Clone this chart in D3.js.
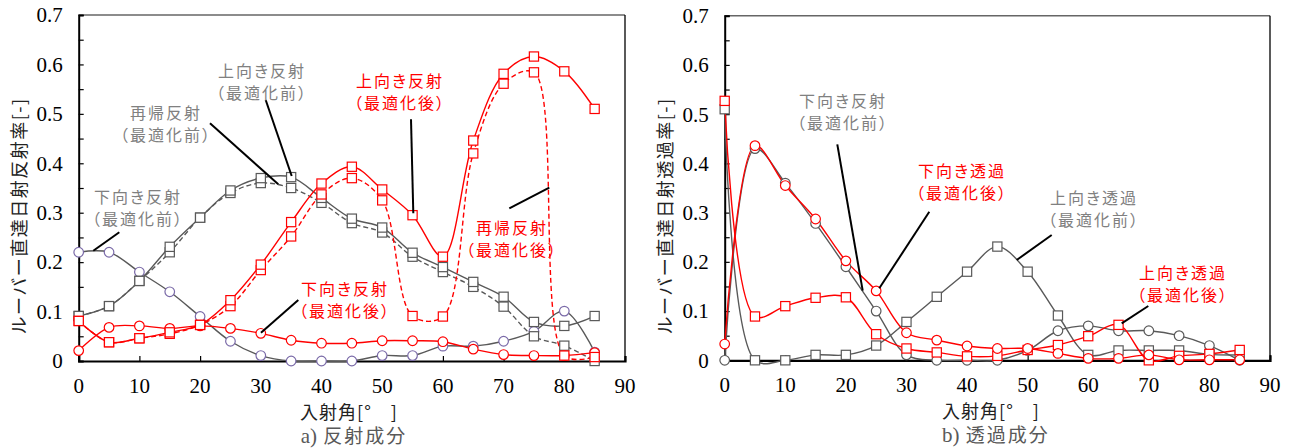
<!DOCTYPE html>
<html>
<head>
<meta charset="utf-8">
<script src="https://cdn.jsdelivr.net/npm/d3@7"></script>
<style>
  body { margin: 0; background: #fff; }
  svg { display: block; }
  .num { font-family: "Liberation Serif", "Times New Roman", Times, serif; }
  .jp { font-family: "Noto Sans CJK JP", sans-serif; }
</style>
</head>
<body>
<svg id="chart" width="1294" height="448"></svg>
<script>
// incidence angles [deg]
const ANGLES = [0, 5, 10, 15, 20, 25, 30, 35, 40, 45, 50, 55, 60, 65, 70, 75, 80, 85];
const X_TICKS = [0, 10, 20, 30, 40, 50, 60, 70, 80, 90];
const Y_TICKS = [0, 0.1, 0.2, 0.3, 0.4, 0.5, 0.6, 0.7];

// a) reflection
const reflUpBefore = [0.091, 0.111, 0.162, 0.231, 0.29, 0.345, 0.37, 0.372, 0.33, 0.288, 0.27, 0.219, 0.19, 0.16, 0.13, 0.079, 0.071, 0.091];
const reflRetroBefore = [0.091, 0.111, 0.162, 0.22, 0.29, 0.34, 0.36, 0.35, 0.32, 0.279, 0.26, 0.211, 0.18, 0.15, 0.11, 0.05, 0.031, 0.0];
const reflDownBefore = [0.22, 0.22, 0.18, 0.14, 0.09, 0.04, 0.011, 0.0, 0.0, 0.0, 0.011, 0.011, 0.03, 0.03, 0.04, 0.06, 0.101, 0.018];
const reflDownAfter = [0.021, 0.068, 0.071, 0.066, 0.071, 0.066, 0.056, 0.042, 0.036, 0.036, 0.041, 0.041, 0.039, 0.024, 0.013, 0.011, 0.011, 0.017];
const reflUpAfter = [0.081, 0.038, 0.046, 0.058, 0.073, 0.123, 0.195, 0.281, 0.359, 0.393, 0.347, 0.295, 0.211, 0.446, 0.581, 0.616, 0.586, 0.51];
const reflRetroAfter = [0.081, 0.038, 0.046, 0.055, 0.073, 0.111, 0.184, 0.252, 0.337, 0.37, 0.325, 0.091, 0.09, 0.42, 0.561, 0.584, 0.011, 0.008];

// b) transmission
const transDownBefore = [0.0, 0.43, 0.36, 0.278, 0.19, 0.10, 0.011, 0.0, 0.0, 0.0, 0.02, 0.06, 0.07, 0.06, 0.06, 0.05, 0.03, 0.0];
const transDownAfter = [0.033, 0.436, 0.355, 0.287, 0.202, 0.141, 0.056, 0.041, 0.029, 0.024, 0.024, 0.014, 0.004, 0.004, 0.011, 0.001, 0.001, 0.001];
const transUpBefore = [0.51, 0.0, 0.0, 0.011, 0.011, 0.03, 0.078, 0.129, 0.18, 0.231, 0.18, 0.091, 0.011, 0.02, 0.02, 0.02, 0.012, 0.011];
const transUpAfter = [0.527, 0.089, 0.11, 0.127, 0.128, 0.053, 0.024, 0.016, 0.008, 0.009, 0.021, 0.031, 0.049, 0.072, 0.0, 0.009, 0.013, 0.021];

const GRAY = "#595959";
const RED = "#ff0000";
const PURPLE = "#7a6aa8";

const svg = d3.select("#chart");

const panels = [
  {
    left: 78.7, right: 625, top: 15, bottom: 361,
    yLabel: "ルーバー直達日射反射率[-]",
    caption: ["a)", " 反射成分"], captionX: 354,
    series: [
      { values: reflDownBefore, line: GRAY, marker: PURPLE, shape: "circle" },
      { values: reflRetroBefore, line: GRAY, marker: GRAY, shape: "square", dash: "5,3" },
      { values: reflUpBefore, line: GRAY, marker: GRAY, shape: "square" },
      { values: reflDownAfter, line: RED, marker: RED, shape: "circle" },
      { values: reflRetroAfter, line: RED, marker: RED, shape: "square", dash: "5,3" },
      { values: reflUpAfter, line: RED, marker: RED, shape: "square" },
    ],
    notes: [
      { lines: ["上向き反射", "（最適化前）"], x: 262, y: 77, color: "#808080", from: [265.7, 100], to: [291.7, 176] },
      { lines: ["再帰反射", "（最適化前）"], x: 166, y: 119, color: "#808080", from: [210, 123.3], to: [278.3, 184.3] },
      { lines: ["下向き反射", "（最適化前）"], x: 138, y: 203, color: "#808080", from: [119.3, 232.3], to: [93.3, 250.7] },
      { lines: ["上向き反射", "（最適化後）"], x: 400, y: 87, color: RED, from: [411, 119.3], to: [413.3, 213.3] },
      { lines: ["再帰反射", "（最適化後）"], x: 512, y: 234, color: RED, from: [509.3, 208.3], to: [549.3, 187.7] },
      { lines: ["下向き反射", "（最適化後）"], x: 345, y: 295, color: RED, from: [298.3, 300], to: [261, 332.7] },
    ],
  },
  {
    left: 724.7, right: 1270, top: 15.7, bottom: 360.3,
    yLabel: "ルーバー直達日射透過率[-]",
    caption: ["b)", " 透過成分"], captionX: 996,
    series: [
      { values: transUpBefore, line: GRAY, marker: GRAY, shape: "square" },
      { values: transDownBefore, line: GRAY, marker: GRAY, shape: "circle" },
      { values: transUpAfter, line: RED, marker: RED, shape: "square" },
      { values: transDownAfter, line: RED, marker: RED, shape: "circle" },
    ],
    notes: [
      { lines: ["下向き反射", "（最適化前）"], x: 843, y: 107, color: "#808080", from: [837.3, 144.3], to: [862.7, 290.7] },
      { lines: ["下向き透過", "（最適化後）"], x: 962, y: 177, color: RED, from: [929.3, 211.7], to: [879.3, 288.3] },
      { lines: ["上向き透過", "（最適化前）"], x: 1094, y: 204, color: "#808080", from: [1051.7, 235], to: [1016.7, 260] },
      { lines: ["上向き透過", "（最適化後）"], x: 1183, y: 279, color: RED, from: [1148.3, 306], to: [1121.7, 323.3] },
    ],
  },
];

panels.forEach((p) => drawPanel(p));

function drawPanel(p) {
  const x = d3.scaleLinear().domain([0, 90]).range([p.left, p.right]);
  const y = d3.scaleLinear().domain([0, 0.7]).range([p.bottom, p.top]);
  const g = svg.append("g");

  // frame
  g.append("line").attr("x1", p.left).attr("x2", p.right).attr("y1", p.top).attr("y2", p.top)
    .attr("stroke", "#666").attr("stroke-width", 1.5);
  g.append("line").attr("x1", p.right).attr("x2", p.right).attr("y1", p.top).attr("y2", p.bottom)
    .attr("stroke", "#000").attr("stroke-width", 1.3);

  // y axis, minor ticks every 0.05 pointing inward
  const yAxis = d3.axisLeft(y)
    .tickValues(d3.range(0, 0.701, 0.05))
    .tickSize(-5)
    .tickFormat("");
  g.append("g")
    .attr("transform", `translate(${p.left},0)`)
    .call(yAxis)
    .call((a) => a.select(".domain").attr("stroke-width", 2))
    .call((a) => a.selectAll(".tick line").attr("stroke-width", 1.2));

  g.selectAll(".ylab")
    .data(Y_TICKS)
    .join("text")
    .attr("class", "num")
    .attr("x", p.left - 16)
    .attr("y", (d) => y(d))
    .attr("dy", "0.35em")
    .attr("text-anchor", "end")
    .attr("font-size", 21)
    .text((d) => d3.format("~g")(d));

  // x axis
  const xAxis = d3.axisBottom(x).tickValues(X_TICKS).tickSize(-5).tickFormat("");
  g.append("g")
    .attr("transform", `translate(0,${p.bottom})`)
    .call(xAxis)
    .call((a) => a.select(".domain").attr("stroke-width", 2.2))
    .call((a) => a.selectAll(".tick line").attr("stroke-width", 1.2));

  g.selectAll(".xlab")
    .data(X_TICKS)
    .join("text")
    .attr("class", "num")
    .attr("x", (d) => x(d))
    .attr("y", p.bottom + 32)
    .attr("text-anchor", "middle")
    .attr("font-size", 21)
    .text((d) => d);

  // axis titles
  g.append("text")
    .attr("class", "jp")
    .attr("transform", `translate(${p.left - 59},${(p.top + p.bottom) / 2 + 28}) rotate(-90)`)
    .attr("text-anchor", "middle")
    .attr("dy", "0.35em")
    .attr("font-size", 18)
    .attr("letter-spacing", 1.5)
    .attr("fill", "#222")
    .text(p.yLabel);

  g.append("text")
    .attr("class", "jp")
    .attr("x", p.captionX - 5)
    .attr("y", p.bottom + 58)
    .attr("text-anchor", "middle")
    .attr("font-size", 18)
    .attr("letter-spacing", 1)
    .attr("fill", "#222")
    .text("入射角[°　]");

  const cap = g.append("text")
    .attr("x", p.captionX)
    .attr("y", p.bottom + 82)
    .attr("text-anchor", "middle")
    .attr("fill", GRAY);
  cap.append("tspan").attr("class", "num").attr("font-size", 21).text(p.caption[0]);
  cap.append("tspan").attr("class", "jp").attr("font-size", 19).attr("letter-spacing", 2).text(p.caption[1]);

  // series
  const line = d3.line()
    .x((d, i) => x(ANGLES[i]))
    .y((d) => y(d))
    .curve(d3.curveCatmullRom.alpha(0.5));

  p.series.forEach((s) => {
    g.append("path")
      .datum(s.values)
      .attr("d", line)
      .attr("fill", "none")
      .attr("stroke", s.line)
      .attr("stroke-width", 1.4)
      .attr("stroke-dasharray", s.dash || null);
  });

  p.series.forEach((s) => {
    const pts = s.values.map((v, i) => [ANGLES[i], v]);
    if (s.shape === "circle") {
      g.selectAll(null)
        .data(pts)
        .join("circle")
        .attr("cx", (d) => x(d[0]))
        .attr("cy", (d) => y(d[1]))
        .attr("r", 4.8)
        .attr("fill", "#fff")
        .attr("stroke", s.marker)
        .attr("stroke-width", 1.2);
    } else {
      g.selectAll(null)
        .data(pts)
        .join("rect")
        .attr("x", (d) => x(d[0]) - 4.6)
        .attr("y", (d) => y(d[1]) - 4.6)
        .attr("width", 9.2)
        .attr("height", 9.2)
        .attr("fill", "#fff")
        .attr("stroke", s.marker)
        .attr("stroke-width", 1.2);
    }
  });

  // annotations
  p.notes.forEach((n) => {
    g.append("line")
      .attr("x1", n.from[0]).attr("y1", n.from[1])
      .attr("x2", n.to[0]).attr("y2", n.to[1])
      .attr("stroke", "#000")
      .attr("stroke-width", 2);
    const t = g.append("text")
      .attr("class", "jp")
      .attr("x", n.x)
      .attr("y", n.y)
      .attr("text-anchor", "middle")
      .attr("font-size", 16)
      .attr("letter-spacing", 2)
      .attr("fill", n.color)
      .style("font-feature-settings", "'palt'");
    n.lines.forEach((l, i) => {
      t.append("tspan").attr("x", n.x).attr("dy", i === 0 ? 0 : 22).text(l);
    });
  });
}
</script>
</body>
</html>
